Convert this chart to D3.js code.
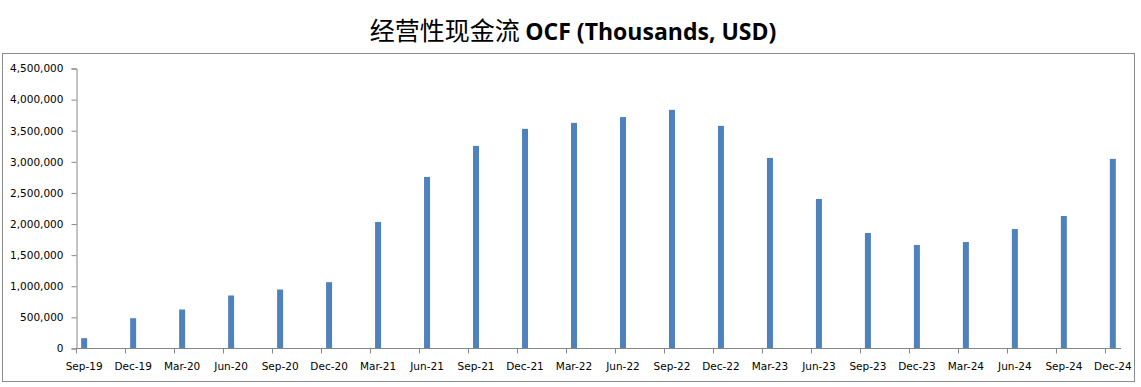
<!DOCTYPE html>
<html>
<head>
<meta charset="utf-8">
<script src="https://cdn.jsdelivr.net/npm/d3@7"></script>
<style>
  body { margin: 0; background: #fff; }
  svg { display: block; }
</style>
</head>
<body>
<svg id="chart" width="1141" height="387"></svg>
<script>
// quarterly OCF, thousands USD
const quarters = ['Sep-19', 'Dec-19', 'Mar-20', 'Jun-20', 'Sep-20', 'Dec-20', 'Mar-21', 'Jun-21',
  'Sep-21', 'Dec-21', 'Mar-22', 'Jun-22', 'Sep-22', 'Dec-22', 'Mar-23', 'Jun-23',
  'Sep-23', 'Dec-23', 'Mar-24', 'Jun-24', 'Sep-24', 'Dec-24'];
const ocf = [166000, 487000, 627000, 852000, 948000, 1066000, 2033000, 2757000,
  3256000, 3530000, 3626000, 3720000, 3835000, 3578000, 3063000, 2403000,
  1856000, 1663000, 1711000, 1920000, 2129000, 3047000];
const yTicks = [0, 500000, 1000000, 1500000, 2000000, 2500000, 3000000, 3500000, 4000000, 4500000];

const svg = d3.select('#chart');
const axisColor = '#868686';

// outer chart frame
svg.append('rect')
  .attr('x', 2.5).attr('y', 53.5)
  .attr('width', 1132).attr('height', 328)
  .attr('fill', 'none')
  .attr('stroke', '#8c8c8c')
  .attr('stroke-width', 1);

// title
const title = svg.append('text')
  .attr('x', 573)
  .attr('y', 40)
  .attr('text-anchor', 'middle')
  .style('font-size', '25px')
  .style('fill', '#000');
title.append('tspan')
  .style('font-family', '"Noto Sans CJK SC"')
  .text('经营性现金流 ');
title.append('tspan')
  .style('font-family', '"Open Sans", sans-serif')
  .style('font-weight', '700')
  .style('font-size', '23px')
  .text('OCF (Thousands, USD)');

// date axis: one slot per month, a bar every quarter
const months = quarters.length * 3 - 2; // Sep-19 .. Dec-24
const x = d3.scaleLinear().domain([0, months]).range([76, 1121]);
const y = d3.scaleLinear().domain([0, 4500000]).range([348.5, 68.5]);

const barW = 6;

// y axis
const yAxis = svg.append('g')
  .attr('transform', 'translate(76.5,0)')
  .call(d3.axisLeft(y)
    .tickValues(yTicks)
    .tickSize(5)
    .tickFormat(d3.format(',')));
yAxis.select('.domain').attr('stroke', axisColor);
yAxis.selectAll('.tick line').attr('stroke', axisColor);
yAxis.selectAll('text')
  .attr('x', -13)
  .style('font-family', '"DejaVu Sans", sans-serif')
  .style('font-size', '10.5px')
  .style('fill', '#000');

// bars
svg.selectAll('.bar')
  .data(ocf)
  .enter().append('rect')
  .attr('class', 'bar')
  .attr('x', (d, i) => x(i * 3 + 0.5) - barW / 2)
  .attr('y', d => y(d))
  .attr('width', barW)
  .attr('height', d => y(0) - y(d))
  .attr('fill', '#4f81bd');

// x axis
const xg = svg.append('g').attr('transform', 'translate(0,348.5)');
xg.append('line')
  .attr('x1', x(0)).attr('x2', x(months))
  .attr('stroke', axisColor);
xg.selectAll('.tick')
  .data(quarters)
  .enter().append('line')
  .attr('x1', (d, i) => Math.round(x(i * 3)) + 0.5)
  .attr('x2', (d, i) => Math.round(x(i * 3)) + 0.5)
  .attr('y1', 0).attr('y2', 5)
  .attr('stroke', axisColor);
xg.selectAll('.lbl')
  .data(quarters)
  .enter().append('text')
  .attr('x', (d, i) => x(i * 3 + 0.5))
  .attr('y', 21)
  .attr('text-anchor', 'middle')
  .style('font-family', '"DejaVu Sans", sans-serif')
  .style('font-size', '10.5px')
  .style('fill', '#000')
  .text(d => d);
</script>
</body>
</html>
